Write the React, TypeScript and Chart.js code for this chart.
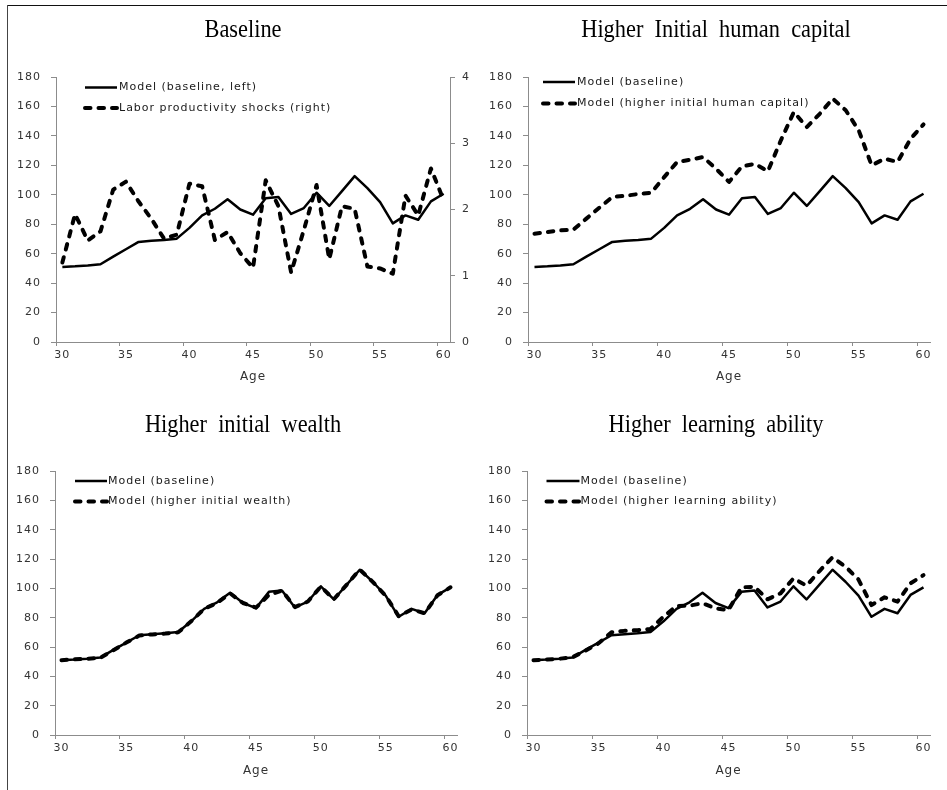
import React, { useEffect, useRef } from 'react';
import { Chart, registerables } from 'chart.js';

Chart.register(...registerables);

// Ages on the horizontal axis
const AGES = [
  30, 31, 32, 33, 34, 35, 36, 37, 38, 39, 40, 41, 42, 43, 44, 45,
  46, 47, 48, 49, 50, 51, 52, 53, 54, 55, 56, 57, 58, 59, 60,
];

// Baseline model path (left axis)
const BASELINE = [
  51, 51.4, 52, 52.8, 58, 63, 68, 68.7, 69.3, 70.2, 77.5, 86, 90.5, 97, 90, 86.5,
  97.6, 98.5, 87, 91, 101.4, 92.4, 102.5, 112.7, 104.5, 95, 80.6, 86, 83, 95.5, 100.7,
];

// Labor productivity shocks (right axis)
const SHOCKS = [
  1.2, 1.93, 1.53, 1.67, 2.3, 2.42, 2.12, 1.86, 1.56, 1.62, 2.39, 2.35, 1.54, 1.66, 1.34, 1.12,
  2.44, 2.05, 1.05, 1.69, 2.37, 1.25, 2.05, 2.01, 1.14, 1.11, 1.03, 2.21, 1.91, 2.62, 2.14,
];

// Higher initial human capital
const HIGH_HUMAN_CAPITAL = [
  73.6, 74.7, 75.8, 76.3, 83.8, 91.2, 98.5, 99.3, 100.5, 101.4, 112, 122.3, 123.8, 125.6, 117.7, 108.7,
  119.3, 121, 116, 137, 156.2, 146, 155, 165.3, 157.4, 143.8, 120, 124.5, 122.3, 138, 147.8,
];

// Higher initial wealth
const HIGH_WEALTH = [
  51, 51.6, 52, 52.6, 57.8, 63, 67.8, 68.6, 69.2, 70, 77.5, 86, 90, 96.6, 90, 86.8,
  95.5, 98.5, 87.2, 91, 101.2, 92.5, 102.5, 112.8, 104.4, 95, 81, 85.6, 83, 95.3, 100.7,
];

// Higher learning ability
const HIGH_LEARNING = [
  51, 51.5, 52, 53, 57.5, 62.5, 70, 71, 71.5, 72.3, 80.7, 88, 88.2, 89.8, 86.4, 85.2,
  100.7, 101.1, 92.5, 96.6, 106.8, 101.8, 111.8, 121.1, 114.8, 106, 88.6, 93.9, 90.9, 103.4, 109,
];

// Axis ranges
const LEFT_MAX = 180;
const LEFT_STEP = 20;
const RIGHT_MAX = 4;
const RIGHT_STEP = 1;
const AGE_LABEL_EVERY = 5;

const AXIS_GRAY = '#8c8c8c';
const TICK_TEXT = '#333333';
const SANS = '"DejaVu Sans", "Liberation Sans", sans-serif';
const SERIF = '"Liberation Serif", "Times New Roman", serif';
const DASH = [5.5, 8];

type Series = { label: string; data: number[]; dashed: boolean; axis: 'y' | 'y1' };

type Panel = {
  key: string;
  left: number;
  top: number;
  width: number;
  height: number;
  title: string;
  titleY: number;
  plotLeft: number;
  plotRight: number;
  plotTop: number;
  plotBottom: number;
  ageTitlePad: number;
  legendLine: [number, number];
  legendTextX: number;
  legendRows: [number, number];
  rightAxis: boolean;
  series: Series[];
};

const PANELS: Panel[] = [
  {
    key: 'baseline',
    left: 0, top: 0, width: 473, height: 395,
    title: 'Baseline', titleY: 37,
    plotLeft: 56, plotRight: 450, plotTop: 77, plotBottom: 342,
    ageTitlePad: 11,
    legendLine: [85, 117], legendTextX: 119, legendRows: [87.5, 108],
    rightAxis: true,
    series: [
      { label: 'Model (baseline, left)', data: BASELINE, dashed: false, axis: 'y' },
      { label: 'Labor productivity shocks (right)', data: SHOCKS, dashed: true, axis: 'y1' },
    ],
  },
  {
    key: 'human',
    left: 473, top: 0, width: 474, height: 395,
    title: 'Higher  Initial  human  capital', titleY: 37,
    plotLeft: 55, plotRight: 457, plotTop: 77, plotBottom: 342,
    ageTitlePad: 11,
    legendLine: [70, 102], legendTextX: 104, legendRows: [82, 103.5],
    rightAxis: false,
    series: [
      { label: 'Model (baseline)', data: BASELINE, dashed: false, axis: 'y' },
      { label: 'Model (higher initial human capital)', data: HIGH_HUMAN_CAPITAL, dashed: true, axis: 'y' },
    ],
  },
  {
    key: 'wealth',
    left: 0, top: 395, width: 473, height: 395,
    title: 'Higher  initial  wealth', titleY: 36.5,
    plotLeft: 55, plotRight: 457, plotTop: 76, plotBottom: 340,
    ageTitlePad: 12,
    legendLine: [75, 107], legendTextX: 108, legendRows: [86, 106.5],
    rightAxis: false,
    series: [
      { label: 'Model (baseline)', data: BASELINE, dashed: false, axis: 'y' },
      { label: 'Model (higher initial wealth)', data: HIGH_WEALTH, dashed: true, axis: 'y' },
    ],
  },
  {
    key: 'learning',
    left: 473, top: 395, width: 474, height: 395,
    title: 'Higher  learning  ability', titleY: 36.5,
    plotLeft: 54, plotRight: 457, plotTop: 76, plotBottom: 340,
    ageTitlePad: 12,
    legendLine: [73.5, 106.5], legendTextX: 107.5, legendRows: [86, 106.5],
    rightAxis: false,
    series: [
      { label: 'Model (baseline)', data: BASELINE, dashed: false, axis: 'y' },
      { label: 'Model (higher learning ability)', data: HIGH_LEARNING, dashed: true, axis: 'y' },
    ],
  },
];

// Serif title, spaced tick text and an in-plot legend for one panel
function makeDecor(p: Panel) {
  return {
    id: 'panelDecor_' + p.key,
    beforeDraw(chart: any) {
      chart.ctx.letterSpacing = '1px';
    },
    afterDraw(chart: any) {
      const ctx = chart.ctx as CanvasRenderingContext2D & { letterSpacing: string };

      ctx.save();
      ctx.letterSpacing = '0px';
      ctx.font = `26px ${SERIF}`;
      ctx.fillStyle = '#000';
      ctx.textAlign = 'center';
      ctx.textBaseline = 'alphabetic';
      ctx.translate(243, p.titleY);
      ctx.scale(0.86, 1);
      ctx.fillText(p.title, 0, 0);
      ctx.restore();

      ctx.save();
      ctx.letterSpacing = '1px';
      ctx.font = `11px ${SANS}`;
      ctx.textAlign = 'left';
      ctx.textBaseline = 'middle';
      chart.data.datasets.forEach((ds: any, i: number) => {
        const y = p.legendRows[i];
        ctx.save();
        ctx.strokeStyle = ds.borderColor;
        ctx.lineWidth = ds.borderWidth;
        ctx.lineCap = ds.borderCapStyle;
        ctx.setLineDash(ds.borderDash || []);
        ctx.beginPath();
        ctx.moveTo(p.legendLine[0], y);
        ctx.lineTo(p.legendLine[1], y);
        ctx.stroke();
        ctx.restore();
        ctx.fillStyle = '#1a1a1a';
        ctx.fillText(ds.label, p.legendTextX, y);
      });
      ctx.restore();
    },
  };
}

function buildChart(canvas: HTMLCanvasElement, p: Panel) {
  const rightAxisWidth = p.width - p.plotRight;
  const datasets = p.series.map((s) => ({
    label: s.label,
    data: s.data,
    yAxisID: s.axis,
    borderColor: '#000000',
    backgroundColor: '#000000',
    borderWidth: s.dashed ? 4 : 2.5,
    borderDash: s.dashed ? DASH : [],
    borderCapStyle: s.dashed ? 'round' : 'butt',
    borderJoinStyle: 'round',
    pointRadius: 0,
    pointHoverRadius: 0,
    tension: 0,
    fill: false,
    order: s.dashed ? 0 : 1,
  }));

  const tickFont = { family: SANS, size: 11 };

  const scales: any = {
    x: {
      type: 'category',
      offset: true,
      grid: {
        offset: true,
        drawOnChartArea: false,
        drawTicks: true,
        tickLength: 4,
        color: (c: any) =>
          c.index !== undefined && AGES[c.index] % AGE_LABEL_EVERY === 0 ? AXIS_GRAY : 'rgba(0,0,0,0)',
      },
      border: { display: true, color: AXIS_GRAY, width: 1 },
      ticks: {
        autoSkip: false,
        maxRotation: 0,
        minRotation: 0,
        padding: 3,
        color: TICK_TEXT,
        font: tickFont,
        callback: (_v: any, i: number) => (AGES[i] % AGE_LABEL_EVERY === 0 ? String(AGES[i]) : ''),
      },
      title: {
        display: true,
        text: 'Age',
        color: TICK_TEXT,
        font: { family: SANS, size: 12 },
        padding: { top: 0, bottom: p.ageTitlePad },
      },
      afterFit: (s: any) => {
        s.height = p.height - p.plotBottom;
      },
    },
    y: {
      type: 'linear',
      position: 'left',
      min: 0,
      max: LEFT_MAX,
      grid: { drawOnChartArea: false, drawTicks: true, tickLength: 5, color: AXIS_GRAY },
      border: { display: true, color: AXIS_GRAY, width: 1 },
      ticks: { stepSize: LEFT_STEP, padding: 10, color: TICK_TEXT, font: tickFont },
      afterFit: (s: any) => {
        s.width = p.plotLeft;
      },
    },
  };

  if (p.rightAxis) {
    scales.y1 = {
      type: 'linear',
      position: 'right',
      min: 0,
      max: RIGHT_MAX,
      grid: { drawOnChartArea: false, drawTicks: true, tickLength: 5, color: AXIS_GRAY },
      border: { display: true, color: AXIS_GRAY, width: 1 },
      ticks: { stepSize: RIGHT_STEP, padding: 7, color: TICK_TEXT, font: tickFont },
      afterFit: (s: any) => {
        s.width = rightAxisWidth;
      },
    };
  }

  return new Chart(canvas, {
    type: 'line',
    data: { labels: AGES.map(String), datasets: datasets as any },
    options: {
      responsive: false,
      maintainAspectRatio: false,
      animation: false,
      events: [],
      layout: {
        padding: {
          left: 0,
          top: p.plotTop,
          right: p.rightAxis ? 0 : p.width - p.plotRight,
          bottom: 0,
        },
      },
      plugins: {
        legend: { display: false },
        title: { display: false },
        tooltip: { enabled: false },
      },
      scales,
    },
    plugins: [makeDecor(p)],
  });
}

export default function App() {
  const refs = useRef<(HTMLCanvasElement | null)[]>([]);

  useEffect(() => {
    const charts = PANELS.map((p, i) => buildChart(refs.current[i] as HTMLCanvasElement, p));
    return () => charts.forEach((c) => c.destroy());
  }, []);

  return (
    <div
      style={{
        position: 'absolute',
        left: 0,
        top: 0,
        width: 947,
        height: 790,
        background: '#ffffff',
        overflow: 'hidden',
      }}
    >
      {PANELS.map((p, i) => (
        <canvas
          key={p.key}
          ref={(el) => {
            refs.current[i] = el;
          }}
          width={p.width}
          height={p.height}
          style={{ position: 'absolute', left: p.left, top: p.top, width: p.width, height: p.height }}
        />
      ))}
      <div style={{ position: 'absolute', left: 7, top: 5, right: 0, height: 1, background: '#111111' }} />
      <div style={{ position: 'absolute', left: 7, top: 5, width: 1, bottom: 0, background: '#444444' }} />
    </div>
  );
}
